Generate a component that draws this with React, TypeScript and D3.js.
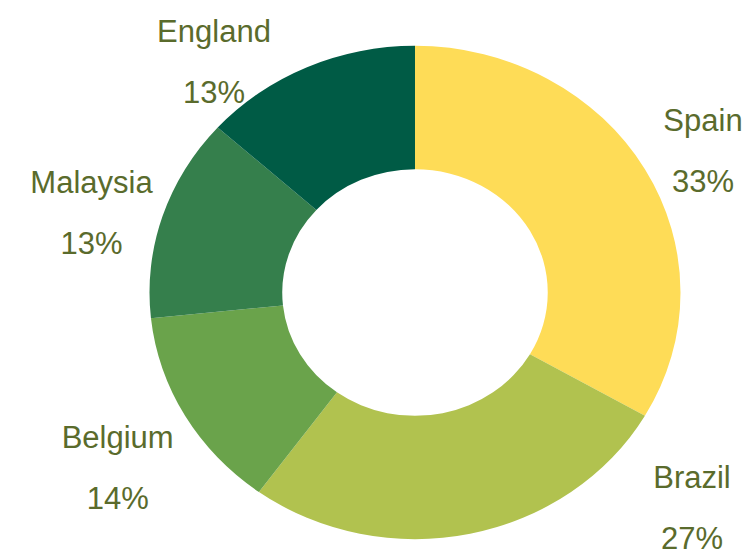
import React from "react";
import * as d3 from "d3";

const categories = ["Spain", "Brazil", "Belgium", "Malaysia", "England"];
const values = [5, 4, 2, 2, 2];
const percentLabels = ["33%", "27%", "14%", "13%", "13%"];
const colors = ["#FEDC57", "#B1C24F", "#6AA34B", "#357F4C", "#005B45"];

// layout (label anchor positions, first-line baseline)
const labelLayout: Record<string, [number, number]> = {
  Spain: [703, 130.7],
  Brazil: [692, 488.3],
  Belgium: [117.7, 448.3],
  Malaysia: [91.5, 193.3],
  England: [214, 42.3],
};

const W = 754;
const H = 556;
const CX = 415;
const CY = 292.5;
const R = 265.5;
const SY = 0.929;

export default function App() {
  const pie = d3
    .pie<number>()
    .sort(null)
    .value((d) => d)(values);
  const arc = d3
    .arc<d3.PieArcDatum<number>>()
    .innerRadius(R * 0.5)
    .outerRadius(R);
  return (
    <svg
      width={W}
      height={H}
      style={{ position: "absolute", left: 0, top: 0, background: "#fff" }}
    >
      <g transform={`translate(${CX},${CY}) scale(1,${SY})`}>
        {pie.map((p, i) => (
          <path key={i} d={arc(p) || ""} fill={colors[i]} />
        ))}
      </g>
      <g
        fontFamily="'Liberation Sans', Arial, sans-serif"
        fontSize={31}
        fill="#5A6B2C"
        textAnchor="middle"
      >
        {categories.map((c, i) => {
          const [x, y] = labelLayout[c];
          return (
            <g key={c}>
              <text x={x} y={y}>{c}</text>
              <text x={x} y={y + 61}>{percentLabels[i]}</text>
            </g>
          );
        })}
      </g>
    </svg>
  );
}
